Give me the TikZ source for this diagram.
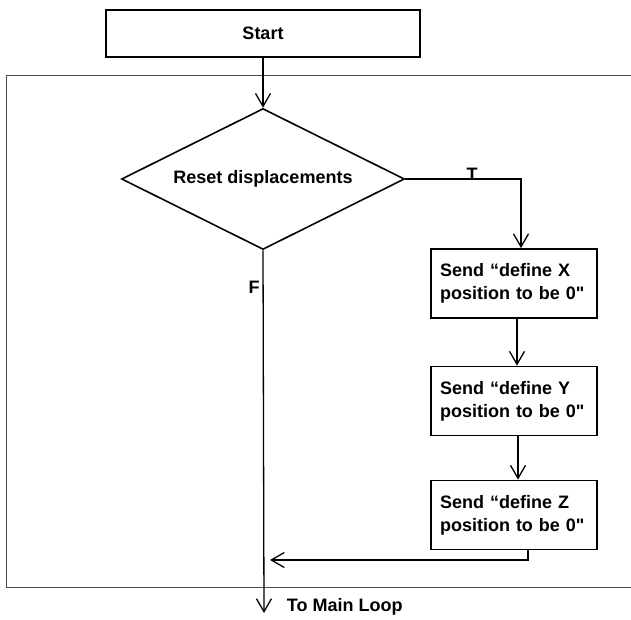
\documentclass[tikz,border=0pt]{standalone}
\usepackage{fontspec}
\setmainfont{Liberation Sans}
\usetikzlibrary{fit, shapes, arrows.meta}

\begin{document}
\begin{tikzpicture}[x=1pt, y=-1pt, font=\fontsize{18}{23}\selectfont\bfseries,
		line width=1.3pt, >={Straight Barb[length=13pt, width=15pt]},
		box/.style={draw, line width=1.8pt},
		sendbox/.style={box, text width=148pt, inner xsep=9pt, align=left, minimum height=69pt},
		decision/.style={diamond, draw, shape aspect=2, line width=1.6pt, inner sep=0pt, minimum width=283pt, minimum height=141pt}]
		\useasboundingbox (0,0) rectangle (631,619);
		\draw[line width=1pt, black!70] (631,75) -- (6,75) -- (6,587) -- (631,587);
		\node[box, minimum width=314pt, minimum height=47pt] (start) at (263,33.5) {Start};
		\node[decision] (reset) at (263,179) {Reset displacements};
		\foreach[count=\i] \ax/\ay in {X/283.5, Y/401, Z/515} {
			\node[sendbox] (send-\ax) at (514,\ay) {Send “define \ax\\position to be 0\textquotedbl};
		}
		\coordinate (join) at (270,560);
		\coordinate (exit) at (264,613);
		\draw[->] (start) -- (reset);
		\draw[->] (reset.east) -| ([xshift=7pt]send-X.north);
		\draw[->] ([xshift=3pt]send-X.south) -- ([xshift=3pt]send-Y.north);
		\draw[->] ([xshift=4pt]send-Y.south) -- ([xshift=4pt]send-Z.north);
		\draw[->] ([xshift=14pt]send-Z.south) |- (join);
		\draw[->] (reset.south) -- (exit);
		\node (t-label) at (472,174) {T};
		\node (f-label) at (254,287) {F};
		\node[anchor=west] (main-loop) at (283,607) {To Main Loop};
	\end{tikzpicture}
\end{document}
